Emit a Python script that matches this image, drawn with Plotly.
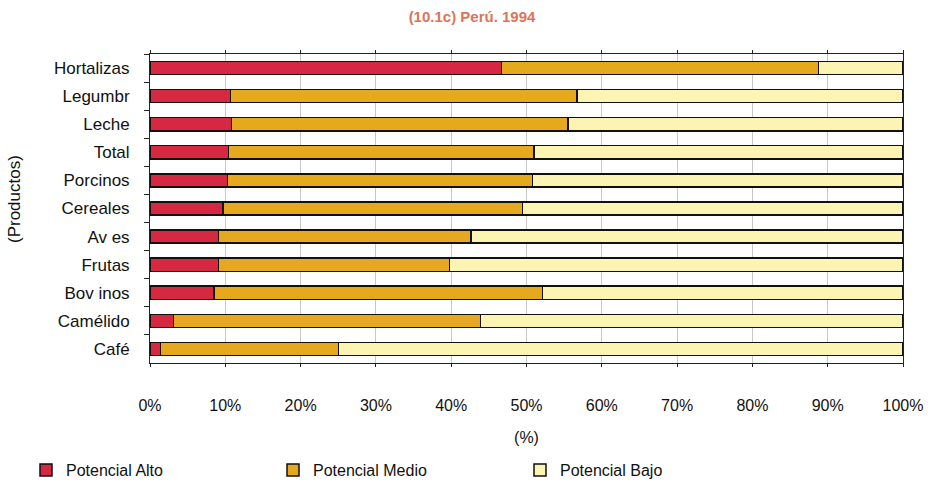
import plotly.graph_objects as go

productos = ["Hortalizas", "Legumbr", "Leche", "Total", "Porcinos", "Cereales",
             "Av es", "Frutas", "Bov inos", "Camélido", "Café"]
potencial_alto = [46.7, 10.7, 10.8, 10.4, 10.3, 9.7, 9.1, 9.1, 8.5, 3.1, 1.4]
potencial_medio = [42.1, 46.0, 44.7, 40.6, 40.5, 39.8, 33.5, 30.7, 43.6, 40.8, 23.6]
potencial_bajo = [11.2, 43.3, 44.5, 49.0, 49.2, 50.5, 57.4, 60.2, 47.9, 56.1, 75.0]
x_ticks = [0, 10, 20, 30, 40, 50, 60, 70, 80, 90, 100]
x_tick_labels = [f"{v}%" for v in x_ticks]

FONT = "Liberation Sans, Arial, sans-serif"
W, H = 928, 484

series = [
    ("Potencial Alto", potencial_alto, "#D62841"),
    ("Potencial Medio", potencial_medio, "#E6A91E"),
    ("Potencial Bajo", potencial_bajo, "#FBF4B3"),
]

fig = go.Figure()
for name, vals, col in series:
    fig.add_trace(go.Bar(
        y=productos, x=vals, name=name, orientation="h",
        marker=dict(color=col, line=dict(color="#111111", width=1.5)),
        width=0.47,
    ))

fig.update_layout(
    barmode="stack",
    width=W, height=H,
    margin=dict(l=150, r=25, t=54, b=121, autoexpand=False),
    paper_bgcolor="white", plot_bgcolor="white",
    font=dict(family=FONT, size=16, color="#111111"),
    title=dict(text="<b>(10.1c) Perú. 1994</b>", x=472 / W, xanchor="center",
               y=1 - 17 / H, yanchor="middle",
               font=dict(family=FONT, size=15, color="#DF7358")),
    showlegend=True,
    legend=dict(orientation="h", xref="container", yref="container",
                x=26 / W, y=1 - 470 / H, xanchor="left", yanchor="middle",
                entrywidth=202, entrywidthmode="pixels",
                font=dict(family=FONT, size=16), traceorder="normal",
                itemwidth=30),
    annotations=[dict(text="(Productos)", xref="paper", yref="paper",
                      x=-136 / 753, y=(363 - 199) / 309, xanchor="center",
                      yanchor="middle", textangle=-90, showarrow=False,
                      font=dict(family=FONT, size=17, color="#111111"))],
)
fig.update_xaxes(
    range=[0, 100], tickvals=x_ticks, ticktext=x_tick_labels,
    showgrid=True, gridcolor="#c8c8c8", gridwidth=1,
    showline=True, linecolor="#222222", linewidth=1, mirror="ticks",
    ticks="outside", ticklen=3, tickcolor="#222222",
    ticklabelstandoff=25, tickfont=dict(family=FONT, size=16),
    title=dict(text="(%)", standoff=18, font=dict(family=FONT, size=16)),
    zeroline=False, fixedrange=True,
)
fig.update_yaxes(
    categoryorder="array", categoryarray=productos, autorange="reversed",
    showline=True, linecolor="#222222", linewidth=1, mirror=True,
    ticks="outside", tickson="boundaries", ticklen=5, tickcolor="#222222",
    ticklabelstandoff=16, tickfont=dict(family=FONT, size=17),
    showgrid=False,
)

fig.write_html("out.html",
               config={"displayModeBar": False},
               post_script="document.body.style.margin='0';"
                           "document.body.style.overflow='hidden';")
